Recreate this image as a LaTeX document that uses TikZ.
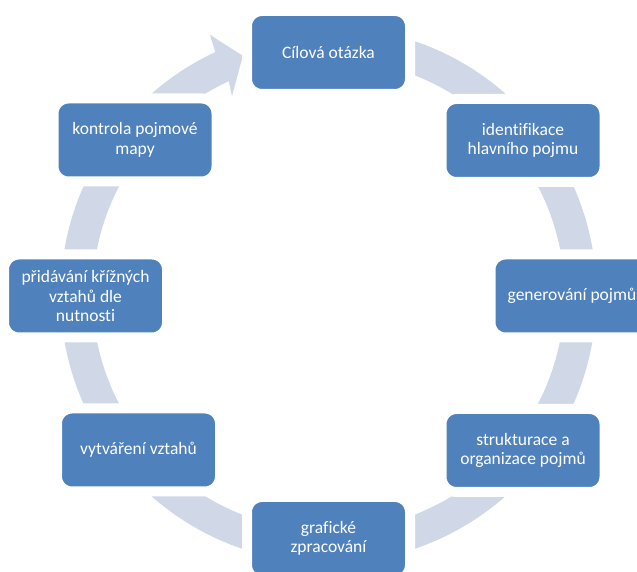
\documentclass[tikz,border=0pt]{standalone}
\usepackage{fontspec}
\setmainfont{Carlito}[Ligatures=NoCommon]
\definecolor{boxblue}{HTML}{4F81BD}
\definecolor{ringblue}{HTML}{D0D8E8}
\tikzset{
  stepbox/.style={rectangle, rounded corners=15pt, fill=boxblue, draw=white,
    line width=10pt, minimum width=163pt, minimum height=83pt, inner sep=0pt,
    align=center, text=white, font=\fontsize{17.5}{19.5}\selectfont},
  ringarrow/.style={fill=ringblue}
}
\begin{document}
\begin{tikzpicture}[x=1pt,y=1pt]
\useasboundingbox (0,0) rectangle (637,572);
\clip (0,0) rectangle (637,572);
% circular arrow behind the steps
\begin{scope}[shift={(328.5,277)}]
  \fill[ringarrow] (85:268) arc[start angle=85, end angle=-245, radius=268]
    -- (-245.5:286) -- (-250.3:254) -- (-244.1:221) -- (-245:236)
    arc[start angle=-245, end angle=85, radius=236] -- cycle;
\end{scope}
% steps of the cycle
\node[stepbox] (s1) at (328.5,519.5) {Cílová otázka};
\node[stepbox] (s2) at (523,431.5) {identifikace\\hlavního pojmu};
\node[stepbox] (s3) at (572,276) {generování pojmů};
\node[stepbox] (s4) at (523,121.5) {strukturace a\\organizace pojmů};
\node[stepbox] (s5) at (328.5,33.5) {grafické\\zpracování};
\node[stepbox] (s6) at (138.5,122) {vytváření vztahů};
\node[stepbox] (s7) at (85.5,276) {přidávání křížných\\vztahů dle\\nutnosti};
\node[stepbox] (s8) at (135,432) {kontrola pojmové\\mapy};
\end{tikzpicture}
\end{document}
